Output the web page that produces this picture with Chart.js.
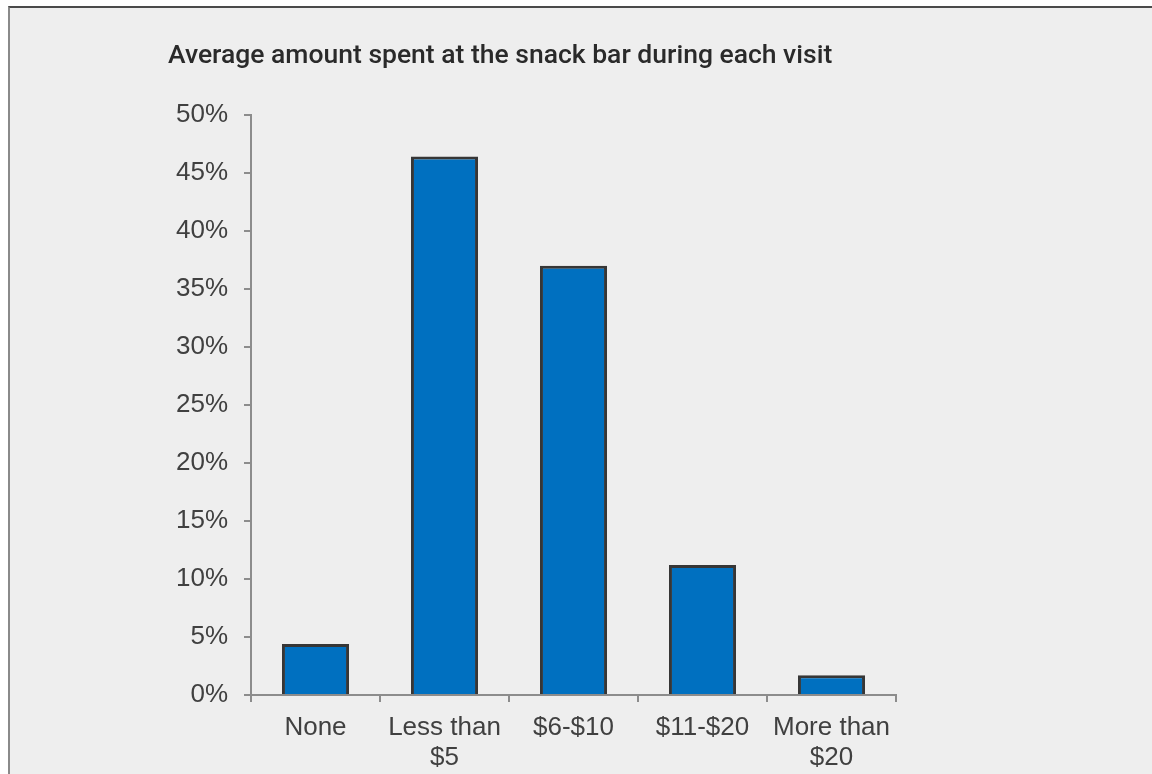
<!DOCTYPE html>
<html>
<head>
<meta charset="utf-8">
<script src="https://cdn.jsdelivr.net/npm/chart.js@4/dist/chart.umd.min.js"></script>
<style>
  html, body { margin: 0; padding: 0; background: #ffffff; width: 1152px; height: 774px; overflow: hidden; }
  #frame { position: absolute; left: 8px; top: 6px; width: 1200px; height: 800px; background: #eeeeee; border-left: 2px solid #8a8a8a; border-top: 2px solid #4a4a4a; }
  #wrap { position: absolute; left: 0; top: 0; width: 1152px; height: 774px; }
</style>
</head>
<body>
<div id="frame"></div>
<div id="wrap"><canvas id="c" width="1152" height="774"></canvas></div>
<script>
const titleText = 'Average amount spent at the snack bar during each visit';
const categories = [['None'], ['Less than', '$5'], ['$6-$10'], ['$11-$20'], ['More than', '$20']];
const values = [4.4, 46.4, 37.0, 11.2, 1.7];
const yMin = 0, yMax = 50, yStep = 5;

const FONT = "'Liberation Sans', Arial, sans-serif";

new Chart(document.getElementById('c'), {
  type: 'bar',
  data: {
    labels: categories,
    datasets: [{
      data: values,
      backgroundColor: '#0070c0',
      borderColor: '#363636',
      borderWidth: 3,
      borderSkipped: 'bottom',
      barPercentage: 0.52,
      categoryPercentage: 1.0
    }]
  },
  options: {
    responsive: false,
    animation: false,
    devicePixelRatio: 1,
    layout: { padding: { left: 168, right: 256, top: 0, bottom: 0 } },
    plugins: {
      legend: { display: false },
      tooltip: { enabled: false },
      title: {
        display: true,
        text: titleText,
        align: 'start',
        color: '#2a2a2a',
        font: { family: "Roboto, 'Liberation Sans', sans-serif", size: 26.5, weight: '500', lineHeight: 1.2 },
        padding: { top: 40, bottom: 43 }
      }
    },
    scales: {
      y: {
        min: yMin, max: yMax,
        afterFit: s => { s.width = 83; },
        ticks: {
          stepSize: yStep,
          padding: 16,
          color: '#404040',
          font: { family: FONT, size: 26 },
          callback: v => v + '%'
        },
        grid: { drawOnChartArea: false, drawTicks: true, tickLength: 7, color: '#8c8c8c', lineWidth: 2 },
        border: { color: '#8c8c8c', width: 2 }
      },
      x: {
        afterFit: s => { s.height = 79; },
        ticks: {
          padding: 11,
          color: '#404040',
          font: { family: FONT, size: 26, lineHeight: 1.15 },
          maxRotation: 0, autoSkip: false
        },
        grid: { drawOnChartArea: false, drawTicks: true, tickLength: 7, color: '#8c8c8c', lineWidth: 2, offset: true },
        border: { color: '#8c8c8c', width: 2 }
      }
    }
  }
});
</script>
</body>
</html>
